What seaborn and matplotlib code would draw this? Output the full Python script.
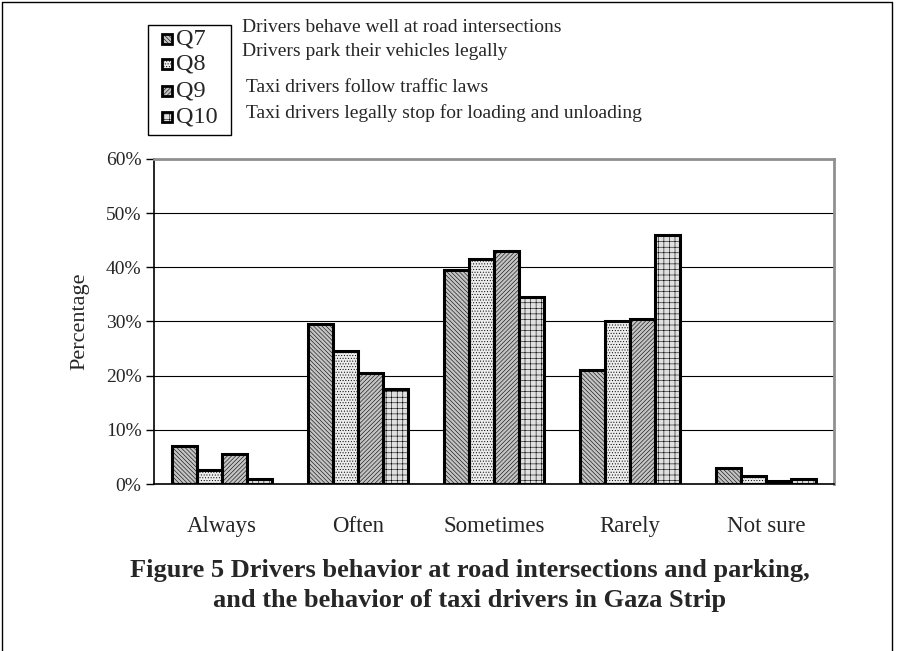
import seaborn as sns
import matplotlib.pyplot as plt
import pandas as pd
from matplotlib.patches import Rectangle
from matplotlib.lines import Line2D

categories = ["Always", "Often", "Sometimes", "Rarely", "Not sure"]
questions = ["Q7", "Q8", "Q9", "Q10"]
descriptions = ["Drivers behave well at road intersections",
                "Drivers park their vehicles legally",
                "Taxi drivers follow traffic laws",
                "Taxi drivers legally stop for loading and unloading"]
q7 = [7, 29.5, 39.5, 21, 3]
q8 = [2.5, 24.5, 41.5, 30, 1.5]
q9 = [5.5, 20.5, 43, 30.5, 0.5]
q10 = [1, 17.5, 34.5, 46, 1]
y_ticks = [0, 10, 20, 30, 40, 50, 60]

faces = ["#c4c4c4", "#ececec", "#c4c4c4", "#e0e0e0"]
hatches = ["\\\\\\\\\\\\\\\\", "......", "////////", "+++"]

rows = []
for q, vals in zip(questions, [q7, q8, q9, q10]):
    for c, v in zip(categories, vals):
        rows.append({"Category": c, "Question": q, "Percentage": v})
df = pd.DataFrame(rows)

sns.set_style("white")
plt.rcParams["font.family"] = ["Liberation Serif", "DejaVu Serif"]
plt.rcParams["hatch.linewidth"] = 0.4

W, H = 906, 651
fig = plt.figure(figsize=(9.06, 6.51), dpi=100)
ax = fig.add_axes([0.170, 0.2565, 0.7505, 0.4993])

sns.barplot(data=df, x="Category", y="Percentage", hue="Question",
            order=categories, hue_order=questions, width=0.735,
            palette=faces, edgecolor="black", linewidth=2.2, ax=ax,
            legend=False)

for i, q in enumerate(questions):
    for bar in ax.patches[i * len(categories):(i + 1) * len(categories)]:
        bar.set_hatch(hatches[i])
        bar.set_facecolor(faces[i])
        bar.set_edgecolor("black")

ax.set_ylim(0, 60)
ax.set_xlim(-0.5, 4.5)
ax.set_yticks(y_ticks)
ax.set_yticklabels([f"{t}%" for t in y_ticks], fontsize=14)
ax.yaxis.grid(True, color="black", linewidth=0.8)
ax.set_axisbelow(True)
ax.set_xticks(range(len(categories)))
ax.set_xticklabels(categories, fontsize=16.5)
ax.set_xticks([i - 0.5 for i in range(len(categories) + 1)], minor=True)
ax.tick_params(axis="x", which="major", length=0, pad=23)
ax.tick_params(axis="x", which="minor", length=5, width=1, color="black", direction="out")
ax.tick_params(axis="y", length=6, width=1, color="black", direction="out", left=True, pad=3)
ax.set_xlabel("")
ax.set_ylabel("Percentage", fontsize=16, labelpad=12)

for side in ["left", "bottom"]:
    ax.spines[side].set_color("black")
    ax.spines[side].set_linewidth(1.2)
for side in ["top", "right"]:
    ax.spines[side].set_color("#909090")
    ax.spines[side].set_linewidth(2)

# legend box drawn by hand: the labels sit beside it, not inside
fig.add_artist(Rectangle((148 / W, 1 - 135 / H), 83 / W, 110 / H,
                         transform=fig.transFigure, facecolor="white",
                         edgecolor="black", linewidth=1))
entry_y = [39, 64, 91, 117]
for i, (q, y) in enumerate(zip(questions, entry_y)):
    fig.add_artist(Rectangle((162 / W, 1 - (y + 5) / H), 10 / W, 10 / H,
                             transform=fig.transFigure, facecolor=faces[i],
                             hatch=hatches[i], edgecolor="black", linewidth=2))
    fig.text(176 / W, 1 - y / H, q, fontsize=17.5, va="center", ha="left")

desc_pos = [(242, 27), (242, 52), (246, 88), (246, 113)]
for (x, y), text in zip(desc_pos, descriptions):
    fig.text(x / W, 1 - y / H, text, fontsize=14, va="center", ha="left")

fig.text(470 / W, 1 - 570 / H,
         "Figure 5 Drivers behavior at road intersections and parking,",
         fontsize=19, fontweight="bold", ha="center", va="center")
fig.text(470 / W, 1 - 601 / H,
         "and the behavior of taxi drivers in Gaza Strip",
         fontsize=19, fontweight="bold", ha="center", va="center")

fig.add_artist(Line2D([0.002, 0.002, 0.984, 0.984], [0.0, 0.997, 0.997, 0.0],
                      color="black", linewidth=1))

fig.savefig("out.png", dpi=100)
